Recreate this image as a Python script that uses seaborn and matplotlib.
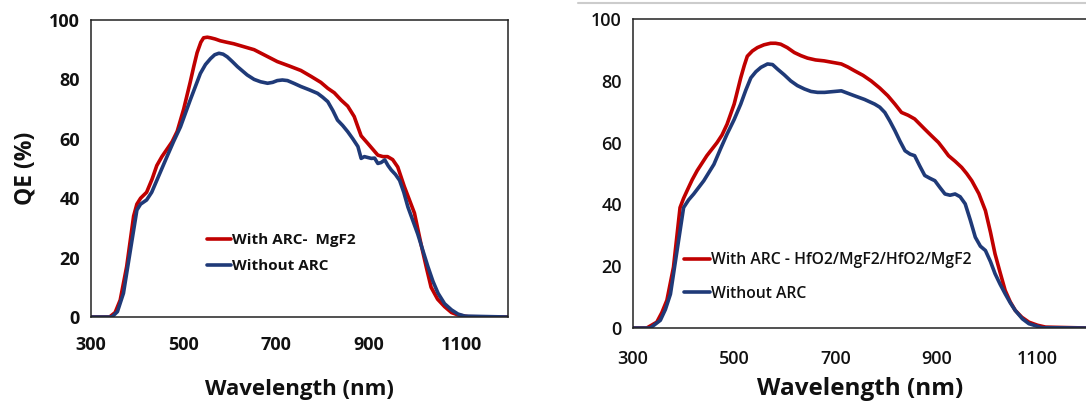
import pandas as pd
import matplotlib
matplotlib.use("Agg")
import matplotlib.pyplot as plt
from matplotlib.lines import Line2D
import seaborn as sns

# left panel: single layer MgF2
wl_mgf2 = [300, 340, 352, 363, 377, 392, 399, 407, 420, 432, 442, 453, 464, 475, 486, 500,
           514, 522, 529, 537, 543, 551, 558, 568, 579, 593, 608, 630, 652, 677, 702, 728,
           753, 775, 796, 811, 825, 840, 854, 868, 876, 883, 897, 908, 919, 930, 940, 951,
           962, 976, 987, 998, 1013, 1024, 1034, 1048, 1063, 1078, 1092, 1114, 1200]
qe_mgf2 = [0, 0, 1.5, 5.7, 17, 34, 38, 40, 42, 46.5, 51, 54, 56.5, 59, 62.5, 70,
           79, 84.5, 89, 92.5, 94, 94.2, 94, 93.6, 93, 92.5, 92, 91, 90, 88, 86, 84.5,
           83, 81, 79, 77, 75.5, 73, 71, 67.5, 64, 61, 58.5, 56.5, 54.5, 54, 54, 53,
           50.5, 44, 39.5, 35, 24, 16.5, 10, 6, 3.5, 1.5, 0.7, 0.1, 0]

wl_bare_l = [300, 345, 357, 370, 385, 399, 407, 420, 431, 442, 464, 478, 493, 514, 536, 547,
             558, 567, 576, 585, 594, 605, 616, 637, 652, 666, 681, 692, 702, 713, 724, 739,
             753, 771, 789, 800, 811, 822, 832, 843, 854, 865, 876, 883, 890, 905, 912, 919,
             926, 934, 941, 948, 957, 966, 975, 984, 1005, 1027, 1038, 1049, 1063, 1078, 1092,
             1107, 1200]
qe_bare_l = [0, 0, 1.8, 8, 22.5, 36, 38, 39.4, 42, 46, 54, 59, 64, 73, 82, 85,
             87, 88.3, 88.8, 88.5, 87.6, 86, 84.3, 81.5, 80, 79.2, 78.7, 79, 79.6, 79.8, 79.6, 78.6,
             77.6, 76.5, 75.3, 74, 72.5, 69.5, 66.3, 64.5, 62.4, 60, 57.4, 53.4, 54, 53.4, 53.5, 51.7,
             52, 52.9, 51, 49.5, 48, 46, 42, 37, 28, 17, 12, 8, 4.5, 2.4, 1,
             0.3, 0]

# right panel: HfO2/MgF2/HfO2/MgF2 stack
wl_stack = [300, 327, 347, 357, 367, 380, 393, 400, 407, 417, 427, 446, 466, 476, 486, 500,
            513, 520, 526, 536, 546, 559, 572, 582, 592, 605, 619, 632, 645, 661, 678, 695,
            712, 725, 738, 755, 771, 788, 804, 818, 831, 844, 857, 877, 890, 904, 914, 924,
            937, 950, 960, 970, 984, 997, 1007, 1016, 1026, 1036, 1046, 1056, 1069, 1083, 1100,
            1116, 1200]
qe_stack = [0, 0, 1.9, 5, 9, 19.7, 39, 42, 44.5, 48, 51, 55.8, 60, 62.5, 66, 72.5,
            81, 85, 88, 89.7, 90.8, 91.7, 92.2, 92.2, 91.9, 90.8, 89.2, 88.2, 87.4, 86.8, 86.5, 86,
            85.5, 84.5, 83.3, 81.8, 80, 77.7, 75.2, 72.5, 69.8, 68.9, 67.7, 64.4, 62.3, 60.1, 58, 55.8,
            54, 52, 50, 47.7, 43.5, 38, 31, 24, 18, 12.2, 8.5, 5.7, 3.5, 1.9, 0.9,
            0.3, 0]

wl_bare_r = [300, 334, 354, 364, 374, 387, 400, 410, 420, 440, 460, 473, 486, 500, 513, 523,
             533, 543, 553, 566, 576, 586, 599, 612, 625, 639, 652, 665, 679, 692, 712, 725,
             738, 758, 778, 788, 798, 808, 818, 828, 838, 848, 857, 867, 877, 887, 897, 907,
             917, 927, 937, 947, 957, 967, 977, 987, 997, 1007, 1016, 1026, 1036, 1046, 1056,
             1070, 1083, 1109, 1200]
qe_bare_r = [0, 0, 2.5, 6, 11, 25, 39, 41.5, 43.4, 47.7, 53, 58, 62.8, 67.5, 72.5, 77,
             81, 83, 84.4, 85.5, 85.3, 83.8, 82, 80, 78.5, 77.4, 76.6, 76.3, 76.3, 76.5, 76.8, 76,
             75.2, 74, 72.5, 71.5, 69.8, 67, 63.9, 60.5, 57.4, 56.3, 55.8, 52.5, 49.4, 48.5, 47.7, 45.5,
             43.4, 43, 43.4, 42.5, 40.2, 35, 29.4, 26.5, 25.1, 21.5, 17.6, 14.2, 11.1, 8.2, 5.7,
             3, 1.4, 0.1, 0]

x_ticks = [300, 500, 700, 900, 1100]
y_ticks = [0, 20, 40, 60, 80, 100]

RED = "#C00000"
BLUE = "#1F3A78"

sns.set_style("white")
plt.rcParams["font.family"] = ["Open Sans", "DejaVu Sans"]

fig = plt.figure(figsize=(10.86, 4.08), dpi=100)
ax1 = fig.add_axes([0.0838, 0.223, 0.384, 0.728])
ax2 = fig.add_axes([0.5829, 0.196, 0.419, 0.757])

left = pd.concat([
    pd.DataFrame({"wl": wl_mgf2, "qe": qe_mgf2, "s": "With ARC-  MgF2"}),
    pd.DataFrame({"wl": wl_bare_l, "qe": qe_bare_l, "s": "Without ARC"}),
])
right = pd.concat([
    pd.DataFrame({"wl": wl_stack, "qe": qe_stack, "s": "With ARC - HfO2/MgF2/HfO2/MgF2"}),
    pd.DataFrame({"wl": wl_bare_r, "qe": qe_bare_r, "s": "Without ARC"}),
])

line_kw = dict(linewidth=2.6, sort=False, solid_joinstyle="round", solid_capstyle="round")
sns.lineplot(data=left, x="wl", y="qe", hue="s", palette=[RED, BLUE], ax=ax1, **line_kw)
sns.lineplot(data=right, x="wl", y="qe", hue="s", palette=[RED, BLUE], ax=ax2, **line_kw)

for ax, wt, tsz, lsz in [(ax1, "bold", 13, 16), (ax2, "semibold", 13, 17.5)]:
    ax.set_xlim(300, 1200)
    ax.set_ylim(0, 100)
    ax.set_xticks(x_ticks)
    ax.set_yticks(y_ticks)
    ax.set_xticklabels([str(t) for t in x_ticks], fontsize=tsz, fontweight=wt, color="#111111")
    ax.set_yticklabels([str(t) for t in y_ticks], fontsize=tsz, fontweight=wt, color="#111111")
    ax.tick_params(direction="in", length=4, width=1, color="#222222")
    ax.tick_params(axis="y", pad=8)
    for sp in ax.spines.values():
        sp.set_color("#222222")
        sp.set_linewidth(1.1)
    ax.set_xlabel("Wavelength (nm)", fontsize=lsz, fontweight="bold", color="#111111")

ax1.tick_params(axis="x", pad=14)
ax2.tick_params(axis="x", pad=16)
ax1.set_ylabel("QE (%)", fontsize=16.5, fontweight="bold", color="#111111", labelpad=8)
ax2.set_ylabel("")
ax1.xaxis.labelpad = 18
ax2.xaxis.labelpad = 6

leg1 = ax1.legend(loc="center left", bbox_to_anchor=(0.245, 0.215), frameon=False,
                  handlelength=1.6, handletextpad=0.05, labelspacing=0.75,
                  prop={"weight": "bold", "size": 11})
leg2 = ax2.legend(loc="center left", bbox_to_anchor=(0.08, 0.165), frameon=False,
                  handlelength=1.7, handletextpad=0.05, labelspacing=1.1,
                  prop={"weight": "semibold", "size": 11.3})
for leg in (leg1, leg2):
    for t in leg.get_texts():
        t.set_color("#111111")
    for h in leg.get_lines():
        h.set_linewidth(2.6)

# thin grey rule along the top of the right-hand figure
fig.add_artist(Line2D([578 / 1086, 1.0], [1 - 3 / 408, 1 - 3 / 408], color="#cccccc", linewidth=1.5))

fig.savefig("out.png", dpi=100)
